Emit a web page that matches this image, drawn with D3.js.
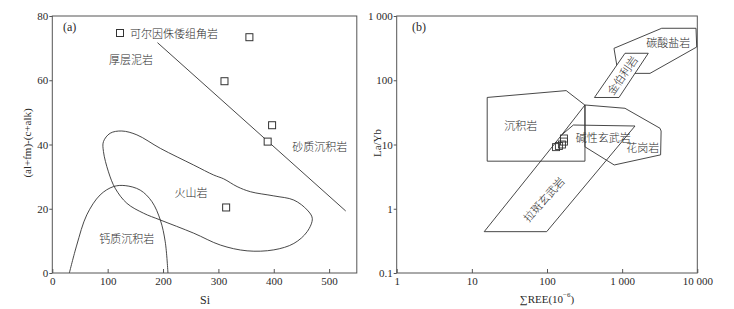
<!DOCTYPE html>
<html>
<head>
<meta charset="utf-8">
<script src="https://cdn.jsdelivr.net/npm/d3@7"></script>
<style>
body { margin: 0; background: #fff; }
text { fill: #2a2a2a; }
.num { font-family: "Liberation Serif", "DejaVu Serif", serif; font-size: 11px; }
.cjk { font-family: "Noto Sans CJK SC", sans-serif; font-size: 11px; font-weight: 300; fill: #2a2a2a; }
.fld { fill: none; stroke: #333; stroke-width: 0.9; }
</style>
</head>
<body>
<script>
// ---- (a) Si vs (al+fm)-(c+alk)
var siTicks = [0, 100, 200, 300, 400, 500];
var alTicks = [0, 20, 40, 60, 80];
var sampleSi = [356, 311, 397, 389, 314];
var sampleAl = [73.4, 59.7, 46.0, 40.9, 20.4];
var divideLine = [[190, 71.7], [530, 19.3]];
var volcanicField = [[125.6, 44.2], [104.5, 43.5], [92.4, 40.9], [92.4, 37.8], [101.4, 31.5], [113.5, 26.4],
  [134.7, 21.7], [164.9, 18.6], [195.1, 16.5], [255.4, 12.4], [303.6, 8.7], [351.9, 6.9], [400.1, 7.2],
  [436.3, 9.2], [460.5, 12.9], [469.6, 17.0], [460.5, 19.6], [436.3, 22.7], [400.1, 24.0], [357.9, 25.3],
  [333.8, 26.9], [309.6, 29.3], [291.5, 30.5], [255.4, 33.6], [195.1, 38.8], [152.8, 43.0]];
var calcField = [[30.8, 0], [44.2, 8.7], [62.3, 18.1], [86.4, 24.3], [110.5, 26.9], [131.6, 27.2],
  [158.8, 25.8], [180, 22.2], [195.1, 16.5], [204, 9.7], [208.9, 0]];
var labelsA = [
  {t: "厚层泥岩", x: 142, y: 66.5},
  {t: "砂质沉积岩", x: 483, y: 39.5},
  {t: "火山岩", x: 250.7, y: 25.3},
  {t: "钙质沉积岩", x: 134.7, y: 10.8}
];

// ---- (b) ΣREE vs La/Yb
var reeTicks = [1, 10, 100, 1000, 10000];
var lybTicks = [0.1, 1, 10, 100, 1000];
var sampleREE = [132, 144, 158, 168, 168];
var sampleLaYb = [9.1, 9.5, 10.0, 11.1, 12.4];
var sedField = [[16, 5.5], [16, 54], [180, 69], [320, 41], [320, 5.5]];
var basaltField = [[14.6, 0.44], [99, 0.44], [1483, 19.4], [224, 20.1], [157, 14.1]];
var basaltEdge = [[157, 14.1], [320, 41.2]];
var graniteField = [[320, 41.2], [1091, 36.6], [3189, 17.9], [3300, 16.2], [3250, 6.9], [784, 4.8], [320, 9.2]];
var carbField = [[779, 314], [3360, 644], [9610, 644], [9820, 329], [2348, 128], [1394, 128], [850, 170]];
var kimbField = [[1091, 263], [2228, 263], [908, 53.9], [428, 53.9]];
var labelsB = [
  {t: "碳酸盐岩", x: 4110, y: 398, r: 0},
  {t: "金伯利岩", x: 986, y: 121, r: -55},
  {t: "沉积岩", x: 44.8, y: 20.1, r: 0},
  {t: "碱性玄武岩", x: 561, y: 13.2, r: 0},
  {t: "花岗岩", x: 1883, y: 9.24, r: 0},
  {t: "拉斑玄武岩", x: 89.3, y: 1.42, r: -48}
];

var svg = d3.select("body").append("svg").attr("width", 734).attr("height", 309);

// scales
var xA = d3.scaleLinear().domain([0, 550]).range([52.3, 356.8]);
var yA = d3.scaleLinear().domain([0, 80]).range([273, 16]);
var xB = d3.scaleLog().domain([1, 10000]).range([396.7, 697.3]);
var yB = d3.scaleLog().domain([0.1, 1000]).range([273, 16]);

var fmt = function (d) {
  return d >= 1000 ? d3.format(",")(d).replace(/,/g, " ") : String(d);
};

function frame(x, y) {
  svg.append("rect")
    .attr("x", x.range()[0]).attr("y", y.range()[1])
    .attr("width", x.range()[1] - x.range()[0])
    .attr("height", y.range()[0] - y.range()[1])
    .attr("fill", "none").attr("stroke", "#555").attr("stroke-width", 1);
}

function axes(x, y, xt, yt) {
  var gx = svg.append("g").attr("class", "num")
    .attr("transform", "translate(0," + y.range()[0] + ")")
    .call(d3.axisBottom(x).tickValues(xt).tickFormat(fmt).tickSizeInner(-4).tickSizeOuter(0).tickPadding(4));
  var gy = svg.append("g").attr("class", "num")
    .attr("transform", "translate(" + x.range()[0] + ",0)")
    .call(d3.axisLeft(y).tickValues(yt).tickFormat(fmt).tickSize(3).tickPadding(1));
  [gx, gy].forEach(function (g) {
    g.select(".domain").remove();
    g.selectAll("line").attr("stroke", "#555");
    g.selectAll("text").attr("fill", "#2a2a2a").style("font-size", "11px").attr("font-family", null);
  });
}

frame(xA, yA);
frame(xB, yB);
axes(xA, yA, siTicks, alTicks);
axes(xB, yB, reeTicks, lybTicks);

// ---- panel (a) marks
var lineA = d3.line().x(function (d) { return xA(d[0]); }).y(function (d) { return yA(d[1]); });
svg.append("path").datum(divideLine).attr("class", "fld").attr("d", lineA);
svg.append("path").datum(volcanicField).attr("class", "fld")
  .attr("d", lineA.curve(d3.curveCatmullRomClosed.alpha(0.5)));
svg.append("path").datum(calcField).attr("class", "fld")
  .attr("d", lineA.curve(d3.curveCatmullRom.alpha(0.5)));

svg.selectAll(".ptA").data(sampleSi).enter().append("rect")
  .attr("class", "ptA")
  .attr("x", function (d) { return xA(d) - 3.5; })
  .attr("y", function (d, i) { return yA(sampleAl[i]) - 3.5; })
  .attr("width", 7).attr("height", 7)
  .attr("fill", "#fff").attr("stroke", "#333").attr("stroke-width", 1);

svg.selectAll(".labA").data(labelsA).enter().append("text")
  .attr("class", "cjk")
  .attr("x", function (d) { return xA(d.x); })
  .attr("y", function (d) { return yA(d.y); })
  .attr("text-anchor", "middle").attr("dominant-baseline", "central")
  .text(function (d) { return d.t; });

// legend
svg.append("rect").attr("x", 116.5).attr("y", 29.5).attr("width", 7).attr("height", 7)
  .attr("fill", "#fff").attr("stroke", "#333");
svg.append("text").attr("class", "cjk").attr("x", 130).attr("y", 33)
  .attr("dominant-baseline", "central").text("可尔因侏倭组角岩");
svg.append("text").attr("class", "num").attr("x", 63).attr("y", 27)
  .attr("dominant-baseline", "central").style("font-size", "12px").text("(a)");

// axis titles (a)
svg.append("text").attr("class", "num").attr("x", 205).attr("y", 300)
  .attr("text-anchor", "middle").attr("dominant-baseline", "central").style("font-size", "12px").text("Si");
svg.append("text").attr("class", "num")
  .attr("transform", "translate(27,143) rotate(-90)")
  .attr("text-anchor", "middle").attr("dominant-baseline", "central").style("font-size", "11px")
  .text("(al+fm)-(c+alk)");

// ---- panel (b) marks
var lineB = d3.line().x(function (d) { return xB(d[0]); }).y(function (d) { return yB(d[1]); });
[sedField, basaltField, graniteField, carbField].forEach(function (f) {
  svg.append("path").datum(f).attr("class", "fld").attr("d", lineB(f) + "Z");
});
svg.append("path").datum(basaltEdge).attr("class", "fld").attr("d", lineB);
svg.append("path").datum(kimbField).attr("class", "fld")
  .style("fill", "#fff").attr("d", lineB(kimbField) + "Z");

svg.selectAll(".ptB").data(sampleREE).enter().append("rect")
  .attr("class", "ptB")
  .attr("x", function (d) { return xB(d) - 3.5; })
  .attr("y", function (d, i) { return yB(sampleLaYb[i]) - 3.5; })
  .attr("width", 7).attr("height", 7)
  .attr("fill", "none").attr("stroke", "#333").attr("stroke-width", 0.9);

svg.selectAll(".labB").data(labelsB).enter().append("text")
  .attr("class", "cjk")
  .attr("transform", function (d) {
    return "translate(" + xB(d.x) + "," + yB(d.y) + ") rotate(" + d.r + ")";
  })
  .attr("text-anchor", "middle").attr("dominant-baseline", "central")
  .text(function (d) { return d.t; });

svg.append("text").attr("class", "num").attr("x", 412).attr("y", 27)
  .attr("dominant-baseline", "central").style("font-size", "12px").text("(b)");

// axis titles (b)
var tB = svg.append("text").attr("class", "num").attr("x", 547).attr("y", 299)
  .attr("text-anchor", "middle").attr("dominant-baseline", "central").style("font-size", "11px");
tB.append("tspan").text("\u2211REE(10");
tB.append("tspan").attr("dy", -4).style("font-size", "7px").text("\u22126");
tB.append("tspan").attr("dy", 4).text(")");
svg.append("text").attr("class", "num")
  .attr("transform", "translate(377,143) rotate(-90)")
  .attr("text-anchor", "middle").attr("dominant-baseline", "central").style("font-size", "11px")
  .text("La/Yb");
</script>
</body>
</html>
